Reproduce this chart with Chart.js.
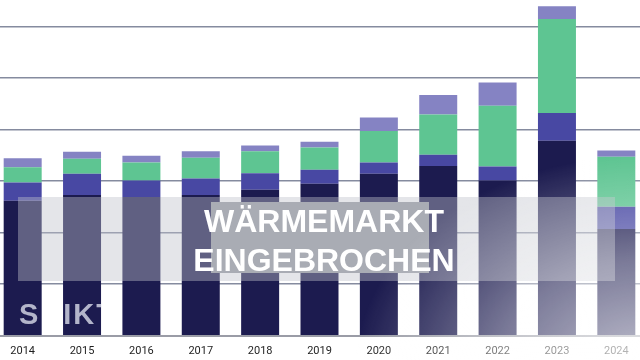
<!DOCTYPE html>
<html>
<head>
<meta charset="utf-8">
<script src="https://cdn.jsdelivr.net/npm/chart.js@4/dist/chart.umd.min.js"></script>
<style>
  html, body { margin:0; padding:0; background:#fff; width:640px; height:360px; overflow:hidden; }
  #wrap { position:absolute; left:-7px; top:0; width:653px; height:367px; }
  .ov { position:absolute; pointer-events:none; }
  #band { left:18px; top:197px; width:597px; height:84px; background:rgba(190,192,202,0.42); }
  #tbox { left:211px; top:202px; width:218px; height:71px; background:#a9acb4; }
  #title { left:174px; top:202px; width:300px; text-align:center; color:#fff;
           font:bold 32px "Liberation Sans", Arial, sans-serif; line-height:39px; }
  #mark { left:19px; top:300px; color:#b3b5ca; font:bold 29px "Liberation Sans", Arial, sans-serif;
          line-height:29px; letter-spacing:2px; mix-blend-mode:lighten; }
  #fade { left:0; top:0; width:640px; height:360px;
          background:radial-gradient(ellipse 290px 210px at 645px 365px, rgba(255,255,255,0.72) 0%, rgba(255,255,255,0.42) 50%, rgba(255,255,255,0) 100%); }
</style>
</head>
<body>
<div id="wrap"><canvas id="c"></canvas></div>
<div class="ov" id="band"></div>
<div class="ov" id="tbox"></div>
<div class="ov" id="title">WÄRMEMARKT<br>EINGEBROCHEN</div>
<div class="ov" id="mark">SHIKT</div>
<div class="ov" id="fade"></div>
<script>
const years  = ['2014','2015','2016','2017','2018','2019','2020','2021','2022','2023','2024'];
const navy   = [2.62, 2.73, 2.69, 2.73, 2.83, 2.95, 3.14, 3.29, 3.01, 3.78, 2.07];
const blue   = [0.35, 0.41, 0.32, 0.32, 0.32, 0.27, 0.22, 0.22, 0.27, 0.54, 0.43];
const green  = [0.30, 0.29, 0.35, 0.40, 0.43, 0.43, 0.61, 0.78, 1.18, 1.82, 0.97];
const purple = [0.17, 0.14, 0.13, 0.13, 0.11, 0.11, 0.26, 0.38, 0.45, 0.25, 0.12];

const ds = (data, color) => ({ data, backgroundColor: color, borderWidth: 0,
  categoryPercentage: 1.0, barPercentage: 0.64 });

new Chart(document.getElementById('c'), {
  type: 'bar',
  data: { labels: years, datasets: [
    ds(navy,   '#1c1b4f'),
    ds(blue,   '#4848a3'),
    ds(green,  '#5ec592'),
    ds(purple, '#8583c3')
  ]},
  options: {
    responsive: true, maintainAspectRatio: false, animation: false,
    layout: { padding: { left: 0, right: 0, top: 0, bottom: 0 } },
    plugins: { legend: { display: false }, tooltip: { enabled: false } },
    scales: {
      x: { stacked: true,
           grid: { display: false, drawTicks: false },
           border: { display: true, color: '#9a9ca6', width: 2 },
           ticks: { color: '#1e1e1e', padding: 9, font: { family: 'Roboto', size: 11 } } },
      y: { stacked: true, min: 0, max: 6.51,
           ticks: { display: false, stepSize: 1 },
           border: { display: false },
           grid: { lineWidth: 1.5, drawTicks: false,
                   color: ctx => (ctx.tick && Number.isInteger(ctx.tick.value)) ? '#858b9f' : 'rgba(0,0,0,0)' } }
    }
  }
});
</script>
</body>
</html>
